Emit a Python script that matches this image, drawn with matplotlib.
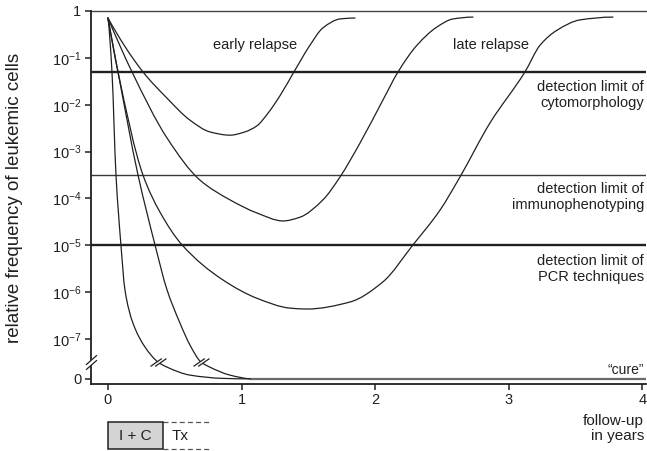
import numpy as np
import matplotlib
matplotlib.use("Agg")
import matplotlib.pyplot as plt
from matplotlib.path import Path
from matplotlib.patches import PathPatch, Rectangle

plt.rcParams['font.family'] = ['Liberation Sans', 'DejaVu Sans']
plt.rcParams['mathtext.fontset'] = 'custom'
plt.rcParams['mathtext.rm'] = 'Liberation Sans'
plt.rcParams['mathtext.it'] = 'Liberation Sans:italic'
plt.rcParams['mathtext.default'] = 'rm'

# ---------------- data (x in years, y = log10 of relative frequency) ----------------
# below the axis break (y < -7.49) the scale is schematic, -7.85 is the "0" level
years_ticks = [0, 1, 2, 3, 4]
decade_ticks = [0, -1, -2, -3, -4, -5, -6, -7]
decade_labels = ['1', '10$^{-1}$', '10$^{-2}$', '10$^{-3}$', '10$^{-4}$',
                 '10$^{-5}$', '10$^{-6}$', '10$^{-7}$']
zero_level = -7.85
break_level = -7.49

cure_fast_x = [0.0, 0.030, 0.060, 0.097, 0.127, 0.187, 0.277, 0.374, 0.442, 0.614, 0.861, 1.063]
cure_fast_y = [-0.15, -1.30, -3.50, -4.99, -5.95, -6.66, -7.17, -7.49, -7.60, -7.77, -7.84, -7.85]

cure_slow_x = [0.0, 0.075, 0.225, 0.352, 0.442, 0.539, 0.614, 0.696, 0.763, 0.913, 1.063]
cure_slow_y = [-0.15, -1.30, -3.50, -4.99, -5.95, -6.66, -7.13, -7.49, -7.60, -7.77, -7.85]

late_deep_x = [0.0, 0.075, 0.262, 0.389, 0.554, 0.861, 1.115, 1.362, 1.490, 1.811, 2.058,
               2.283, 2.485, 2.635, 2.859, 3.121, 3.234, 3.361, 3.533, 3.780]
late_deep_y = [-0.15, -1.30, -3.50, -4.29, -4.99, -5.74, -6.13, -6.34, -6.36, -6.21, -5.78,
               -4.99, -4.25, -3.54, -2.39, -1.30, -0.73, -0.41, -0.19, -0.13]

late_x = [0.0, 0.180, 0.442, 0.689, 0.913, 1.115, 1.310, 1.437, 1.609, 1.737, 1.886,
          2.058, 2.171, 2.313, 2.463, 2.582, 2.732]
late_y = [-0.15, -1.30, -2.71, -3.61, -4.03, -4.31, -4.48, -4.40, -4.03, -3.54, -2.82,
          -1.90, -1.30, -0.73, -0.34, -0.17, -0.13]

early_x = [0.0, 0.262, 0.442, 0.614, 0.763, 0.913, 1.025, 1.115, 1.198, 1.287, 1.392,
           1.512, 1.609, 1.737, 1.849]
early_y = [-0.15, -1.30, -1.86, -2.33, -2.58, -2.65, -2.58, -2.45, -2.18, -1.81, -1.30,
           -0.73, -0.36, -0.17, -0.15]

limit_levels = [-1.30, -3.50, -5.00]
limit_labels = ['detection limit of\ncytomorphology',
                'detection limit of\nimmunophenotyping',
                'detection limit of\nPCR techniques']
cure_start = 1.06

phase_labels = ['I + C', 'Tx']
phase_ends = [0.41, 0.77]

TXT = '#231f20'

# ---------------- figure ----------------
W, H = 647, 451
fig = plt.figure(figsize=(W / 100, H / 100), dpi=100)
ax = fig.add_axes([91 / W, 1 - 383.5 / H, (646 - 91) / W, (383.5 - 11) / H])
ax.set_xlim(-0.127, 4.027)
ax.set_ylim(-7.949, 0)


def pchip_slopes(x, y):
    x = np.asarray(x, float)
    y = np.asarray(y, float)
    h = np.diff(x)
    d = np.diff(y) / h
    n = len(x)
    m = np.zeros(n)
    for k in range(1, n - 1):
        if d[k - 1] * d[k] <= 0:
            m[k] = 0.0
        else:
            w1 = 2 * h[k] + h[k - 1]
            w2 = h[k] + 2 * h[k - 1]
            m[k] = (w1 + w2) / (w1 / d[k - 1] + w2 / d[k])

    def end(h0, h1, d0, d1):
        s = ((2 * h0 + h1) * d0 - h0 * d1) / (h0 + h1)
        if np.sign(s) != np.sign(d0):
            s = 0.0
        elif np.sign(d0) != np.sign(d1) and abs(s) > abs(3 * d0):
            s = 3 * d0
        return s
    m[0] = end(h[0], h[1], d[0], d[1])
    m[-1] = end(h[-1], h[-2], d[-1], d[-2])
    return m


def smooth_path(xs, ys):
    x = np.asarray(xs, float)
    y = np.asarray(ys, float)
    m = pchip_slopes(x, y)
    verts = [(x[0], y[0])]
    codes = [Path.MOVETO]
    for i in range(len(x) - 1):
        hh = x[i + 1] - x[i]
        verts += [(x[i] + hh / 3, y[i] + m[i] * hh / 3),
                  (x[i + 1] - hh / 3, y[i + 1] - m[i + 1] * hh / 3),
                  (x[i + 1], y[i + 1])]
        codes += [Path.CURVE4] * 3
    return Path(verts, codes)


for xs, ys in [(cure_fast_x, cure_fast_y), (cure_slow_x, cure_slow_y),
               (late_deep_x, late_deep_y), (late_x, late_y), (early_x, early_y)]:
    ax.add_patch(PathPatch(smooth_path(xs, ys), facecolor='none', edgecolor=TXT,
                           lw=0.9, zorder=4, capstyle='round', joinstyle='round'))

# horizontal reference lines
ax.axhline(0, color='#444444', lw=1.0, zorder=2, clip_on=False)
ax.axhline(limit_levels[0], color=TXT, lw=1.7, zorder=2)
ax.axhline(limit_levels[1], color='#3a3a3a', lw=1.0, zorder=2)
ax.axhline(limit_levels[2], color=TXT, lw=1.7, zorder=2)
ax.plot([cure_start, 4.027], [zero_level, zero_level], color='#6a6a6a', lw=1.6,
        zorder=3, solid_capstyle='butt')

# break marks on curves
dx, dy, g = 0.82, 0.57, 0.34
slash = Path([(-dx - g, -dy), (dx - g, dy), (-dx + g, -dy), (dx + g, dy)],
             [Path.MOVETO, Path.LINETO, Path.MOVETO, Path.LINETO])
gap = Path([(-dx - g, -dy), (dx - g, dy), (dx + g, dy), (-dx + g, -dy), (-dx - g, -dy)],
           [Path.MOVETO, Path.LINETO, Path.LINETO, Path.LINETO, Path.CLOSEPOLY])
for xs, ys in [(cure_fast_x, cure_fast_y), (cure_slow_x, cure_slow_y)]:
    k = ys.index(break_level)
    ax.plot(xs[k], ys[k], marker=gap, ms=11.5, mfc='white', mec='none', zorder=5)
    ax.plot(xs[k], ys[k], marker=slash, ms=11.5, mfc='none', mec=TXT, mew=0.9, zorder=6)

# break mark on the y axis
sx, sy, sg = 0.75, 0.66, 0.34
yslash = Path([(-sx, -sy - sg), (sx, sy - sg), (-sx, -sy + sg), (sx, sy + sg)],
              [Path.MOVETO, Path.LINETO, Path.MOVETO, Path.LINETO])
ygap = Path([(-sx, -sy - sg), (sx, sy - sg), (sx, sy + sg), (-sx, -sy + sg), (-sx, -sy - sg)],
            [Path.MOVETO, Path.LINETO, Path.LINETO, Path.LINETO, Path.CLOSEPOLY])
ax.plot(-0.127, break_level, marker=ygap, ms=10.5, mfc='white', mec='none', zorder=7,
        clip_on=False)
ax.plot(-0.127, break_level, marker=yslash, ms=10.5, mfc='none', mec=TXT, mew=0.9, zorder=8,
        clip_on=False)

# axes styling
for s in ['top', 'right']:
    ax.spines[s].set_visible(False)
for s in ['left', 'bottom']:
    ax.spines[s].set_linewidth(1.3)
    ax.spines[s].set_color(TXT)
ax.set_xticks(years_ticks)
ax.set_xticklabels([str(v) for v in years_ticks])
ax.set_yticks(decade_ticks + [zero_level])
ax.set_yticklabels(decade_labels + ['0'])
ax.tick_params(direction='out', length=4.5, width=1.1, color=TXT, labelcolor=TXT,
               labelsize=10.5, pad=2.5)

# labels
fs = 10.5
ax.text(0.786, -0.72, 'early relapse', ha='left', va='center', fontsize=fs, color=TXT)
ax.text(2.582, -0.72, 'late relapse', ha='left', va='center', fontsize=fs, color=TXT)
for lvl, lab, yc in zip(limit_levels, limit_labels, [-1.79, -3.97, -5.51]):
    ax.text(4.012, yc, lab, ha='right', va='center', fontsize=fs, color=TXT,
            linespacing=1.15)
ax.text(4.012, -7.66, '\u201ccure\u201d', ha='right', va='center', fontsize=fs - 0.5, color=TXT)
ax.text(4.012, -8.90, 'follow-up\nin years', ha='right', va='center', fontsize=fs + 0.5,
        color=TXT, linespacing=1.1, clip_on=False)

fig.text(15 / W, 1 - 198 / H, 'relative frequency of leukemic cells', rotation=90,
         ha='center', va='center', fontsize=13.5, color=TXT)

# treatment phases below the axis
y_top, y_bot = -8.77, -9.35
ax.add_patch(Rectangle((0, y_bot), phase_ends[0], y_top - y_bot, facecolor='#d4d4d4',
                       edgecolor=TXT, lw=1.1, clip_on=False, zorder=3))
ax.text(phase_ends[0] / 2, (y_top + y_bot) / 2, phase_labels[0], ha='center', va='center',
        fontsize=fs + 0.5, color=TXT, clip_on=False)
ax.text(phase_ends[0] + 0.07, (y_top + y_bot) / 2, phase_labels[1], ha='left', va='center',
        fontsize=fs + 0.5, color=TXT, clip_on=False)
for yy in (y_top, y_bot):
    ax.plot([phase_ends[0], phase_ends[1]], [yy, yy], color='#555555', lw=0.9,
            dashes=(4, 2.5), clip_on=False)

fig.savefig('out.png', dpi=100)
